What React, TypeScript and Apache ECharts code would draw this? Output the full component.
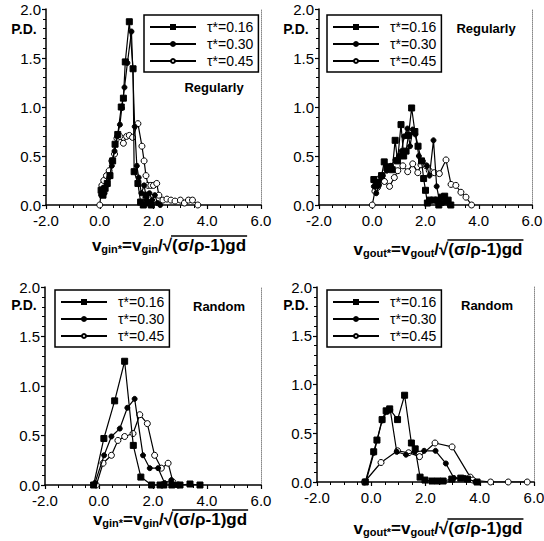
import React, { useEffect, useRef } from 'react';
import * as echarts from 'echarts';

const FONT = '"Liberation Sans", Arial, Helvetica, sans-serif';

const seriesNames = ['τ*=0.16', 'τ*=0.30', 'τ*=0.45'];
const xMin = -2;
const xMax = 6;
const xStep = 2;
const yMin = 0;
const yMax = 2;
const yStep = 0.5;
const yAxisTitle = 'P.D.';
const panelTags = ['Regularly', 'Regularly', 'Random', 'Random'];
const panelSubs = ['gin', 'gout', 'gin', 'gout'];

// Panel 1: regularly, v_gin*
const reg_in_016: [number, number][] = [
  [0.05, 0.15], [0.12, 0.1], [0.2, 0.17], [0.28, 0.22], [0.38, 0.3], [0.48, 0.45], [0.57, 0.62],
  [0.67, 0.72], [0.8, 1.0], [0.88, 1.09], [0.95, 1.46], [1.1, 1.87], [1.24, 1.39], [1.28, 0.34],
  [1.42, 0.22], [1.52, 0.03], [1.62, 0.0], [1.72, 0.1], [1.82, 0.02], [1.92, 0.0],
];
const reg_in_030: [number, number][] = [
  [0.05, 0.1], [0.1, 0.17], [0.18, 0.12], [0.25, 0.2], [0.35, 0.28], [0.45, 0.4], [0.55, 0.55],
  [0.65, 0.7], [0.75, 0.82], [0.82, 0.99], [0.92, 1.2], [1.03, 1.45], [1.18, 1.77], [1.3, 0.8],
  [1.38, 0.4], [1.45, 0.28], [1.55, 0.12], [1.65, 0.2], [1.75, 0.05], [1.85, 0.12], [1.95, 0.05],
  [2.05, 0.1], [2.15, 0.02], [2.25, 0.0],
];
const reg_in_045: [number, number][] = [
  [0.0, 0.0], [0.08, 0.2], [0.15, 0.25], [0.25, 0.3], [0.35, 0.35], [0.45, 0.45], [0.55, 0.52],
  [0.64, 0.68], [0.75, 0.7], [0.88, 0.63], [1.0, 0.7], [1.1, 0.71], [1.22, 0.69], [1.42, 0.83],
  [1.57, 0.6], [1.65, 0.45], [1.72, 0.3], [1.8, 0.2], [1.9, 0.2], [2.0, 0.2], [2.12, 0.22],
  [2.2, 0.1], [2.35, 0.05], [2.5, 0.06], [2.65, 0.05], [2.8, 0.04], [3.0, 0.05], [3.15, 0.02],
  [3.3, 0.05], [3.45, 0.05], [3.65, 0.0],
];

// Panel 2: regularly, v_gout*
const reg_out_016: [number, number][] = [
  [0.06, 0.26], [0.15, 0.2], [0.22, 0.23], [0.35, 0.3], [0.45, 0.44], [0.55, 0.38], [0.67, 0.39],
  [0.75, 0.36], [0.86, 0.66], [0.95, 0.45], [1.08, 0.82], [1.18, 0.5], [1.27, 0.55], [1.36, 0.71],
  [1.48, 0.99], [1.6, 0.75], [1.72, 0.6], [1.85, 0.45], [1.93, 0.27], [2.0, 0.15], [2.07, 0.02],
  [2.15, 0.05], [2.3, 0.05], [2.45, 0.05], [2.5, 0.0], [2.6, 0.08], [2.72, 0.09], [2.85, 0.05],
  [2.95, 0.0],
];
const reg_out_030: [number, number][] = [
  [0.06, 0.19], [0.15, 0.12], [0.25, 0.2], [0.4, 0.3], [0.55, 0.35], [0.7, 0.4], [0.87, 0.46],
  [1.0, 0.5], [1.1, 0.55], [1.2, 0.7], [1.32, 0.78], [1.42, 0.6], [1.52, 0.77], [1.62, 0.72],
  [1.75, 0.5], [1.9, 0.45], [2.05, 0.4], [2.15, 0.3], [2.3, 0.66], [2.42, 0.19], [2.52, 0.05],
  [2.65, 0.02], [2.75, 0.03], [2.9, 0.0],
];
const reg_out_045: [number, number][] = [
  [0.0, 0.0], [0.1, 0.14], [0.2, 0.18], [0.27, 0.27], [0.46, 0.24], [0.65, 0.19], [0.83, 0.28],
  [0.96, 0.35], [1.15, 0.4], [1.33, 0.34], [1.52, 0.42], [1.71, 0.33], [1.83, 0.41], [2.02, 0.4],
  [2.14, 0.35], [2.33, 0.33], [2.52, 0.32], [2.77, 0.46], [2.96, 0.21], [3.14, 0.2], [3.33, 0.13],
  [3.52, 0.08], [3.73, 0.0],
];

// Panel 3: random, v_gin*
const ran_in_016: [number, number][] = [
  [-0.2, 0.0], [0.18, 0.47], [0.58, 0.85], [0.95, 1.25], [1.27, 0.4], [1.55, 0.08], [1.95, 0.0],
  [2.26, 0.0], [2.4, 0.0], [2.7, 0.0], [3.0, 0.0], [3.37, 0.01], [3.74, 0.0],
];
const ran_in_030: [number, number][] = [
  [-0.15, 0.02], [0.19, 0.3], [0.46, 0.49], [0.77, 0.57], [1.05, 0.78], [1.32, 0.87], [1.63, 0.3],
  [1.88, 0.17], [2.19, 0.17], [2.43, 0.02], [2.68, 0.05], [2.86, 0.0],
];
const ran_in_045: [number, number][] = [
  [-0.1, 0.0], [0.15, 0.22], [0.46, 0.3], [0.7, 0.45], [0.95, 0.49], [1.26, 0.52], [1.51, 0.71],
  [1.79, 0.62], [2.06, 0.3], [2.31, 0.17], [2.56, 0.22], [2.74, 0.03], [2.93, 0.0],
];

// Panel 4: random, v_gout*
const ran_out_016: [number, number][] = [
  [-0.22, 0.0], [0.09, 0.31], [0.21, 0.43], [0.4, 0.64], [0.55, 0.73], [0.68, 0.75], [0.97, 0.64],
  [1.23, 0.89], [1.48, 0.4], [1.62, 0.34], [1.8, 0.05], [1.98, 0.02], [2.24, 0.01], [2.45, 0.01],
  [2.65, 0.01], [2.97, 0.03], [3.3, 0.04], [3.55, 0.03], [3.9, 0.0],
];
const ran_out_030: [number, number][] = [
  [-0.2, 0.0], [0.1, 0.3], [0.22, 0.43], [0.4, 0.63], [0.58, 0.72], [0.7, 0.74], [0.94, 0.31],
  [1.28, 0.28], [1.6, 0.31], [1.95, 0.32], [2.37, 0.32], [2.75, 0.19], [3.05, 0.04], [3.45, 0.04],
  [3.85, 0.0],
];
const ran_out_045: [number, number][] = [
  [-0.25, 0.0], [0.36, 0.2], [0.97, 0.32], [1.38, 0.3], [1.78, 0.26], [2.35, 0.4], [2.98, 0.36],
  [3.65, 0.05], [3.75, 0.02], [4.4, 0.0], [5.05, 0.0], [5.75, 0.0],
];

const panelData = [
  [reg_in_016, reg_in_030, reg_in_045],
  [reg_out_016, reg_out_030, reg_out_045],
  [ran_in_016, ran_in_030, ran_in_045],
  [ran_out_016, ran_out_030, ran_out_045],
];

// layout (pixels)
const grids = [
  { left: 46, top: 9, width: 215, height: 196 },
  { left: 319, top: 9, width: 213, height: 196 },
  { left: 45, top: 287, width: 216, height: 198 },
  { left: 317, top: 287, width: 217, height: 195 },
];
const legendPos = [
  { left: 144, top: 15 },
  { left: 327, top: 15 },
  { left: 55, top: 290 },
  { left: 327, top: 290 },
];
const tagPos = [
  { x: 214, y: 87 },
  { x: 486, y: 28 },
  { x: 219, y: 306 },
  { x: 487, y: 305 },
];
const pdPos = [
  { x: 24, y: 29 },
  { x: 296, y: 29 },
  { x: 24, y: 305 },
  { x: 296, y: 305 },
];
const titlePos = [
  { cx: 169, y: 244 },
  { cx: 438, y: 248 },
  { cx: 170, y: 518 },
  { cx: 438, y: 527 },
];

const symbolDefs = [
  { symbol: 'rect', size: 6, fill: '#000' },
  { symbol: 'circle', size: 5, fill: '#000' },
  { symbol: 'circle', size: 6, fill: '#fff' },
];

function measure(text: string, size: number) {
  const c = document.createElement('canvas').getContext('2d');
  if (!c) return text.length * size * 0.6;
  c.font = `bold ${size}px "Liberation Sans", Arial, sans-serif`;
  return c.measureText(text).width;
}

export default function App() {
  const ref = useRef<HTMLDivElement>(null);
  useEffect(() => {
    if (!ref.current) return;
    const chart = echarts.init(ref.current, undefined, { renderer: 'svg' });

    const xAxis: any[] = [];
    const yAxis: any[] = [];
    const series: any[] = [];
    const legend: any[] = [];
    const graphic: any[] = [];
    const MAIN = 17;
    const SUB = 11;

    grids.forEach((g, i) => {
      xAxis.push({
        type: 'value', gridIndex: i, min: xMin, max: xMax, interval: xStep,
        axisLine: { show: true, onZero: false, lineStyle: { color: '#000', width: 1.5 } },
        axisTick: { show: true, length: 4, lineStyle: { color: '#000', width: 1.2 } },
        minorTick: { show: true, splitNumber: 4, length: 3, lineStyle: { color: '#000', width: 1 } },
        splitLine: { show: false },
        axisLabel: {
          color: '#000', fontSize: 15, fontFamily: FONT, margin: 8,
          formatter: (v: number) => v.toFixed(1),
        },
      });
      yAxis.push({
        type: 'value', gridIndex: i, min: yMin, max: yMax, interval: yStep,
        axisLine: { show: true, onZero: false, lineStyle: { color: '#000', width: 1.5 } },
        axisTick: { show: true, length: 4, lineStyle: { color: '#000', width: 1.2 } },
        minorTick: { show: true, splitNumber: 5, length: 3, lineStyle: { color: '#000', width: 1 } },
        splitLine: { show: false },
        axisLabel: {
          color: '#000', fontSize: 15, fontFamily: FONT, margin: 5,
          formatter: (v: number) => v.toFixed(1),
        },
      });
      yAxis.push({
        type: 'value', gridIndex: i, min: yMin, max: yMax, interval: yStep, position: 'right',
        axisLine: { show: true, onZero: false, lineStyle: { color: '#888', width: 1, type: 'dotted' } },
        axisTick: { show: false },
        splitLine: { show: false },
        axisLabel: { show: false },
      });

      panelData[i].forEach((data, k) => {
        const sd = symbolDefs[k];
        series.push({
          type: 'line', name: seriesNames[k], xAxisIndex: i, yAxisIndex: 2 * i, data,
          symbol: sd.symbol, symbolSize: sd.size, showSymbol: true, showAllSymbol: true,
          lineStyle: { color: '#000', width: 1.2 },
          itemStyle: { color: sd.fill, borderColor: '#000', borderWidth: 1 },
          emphasis: { disabled: true }, silent: true, z: 3 - k,
        });
      });

      legend.push({
        orient: 'vertical', left: legendPos[i].left, top: legendPos[i].top,
        data: seriesNames, selectedMode: false, align: 'left',
        itemWidth: 46, itemHeight: 5, itemGap: 3,
        padding: [5, 5, 4, 5],
        borderColor: '#000', borderWidth: 1.5, backgroundColor: '#fff',
        textStyle: { color: '#000', fontSize: 14, fontFamily: FONT, lineHeight: 14, padding: [0, 0, 0, 6] },
      });

      graphic.push({
        type: 'text', x: tagPos[i].x, y: tagPos[i].y,
        style: {
          text: panelTags[i], fill: '#000', font: `bold 13px ${FONT}`,
          textAlign: 'center', textVerticalAlign: 'middle', align: 'center', verticalAlign: 'middle',
        },
      });
      graphic.push({
        type: 'text', x: pdPos[i].x, y: pdPos[i].y,
        style: {
          text: yAxisTitle, fill: '#000', font: `bold 14px ${FONT}`,
          textAlign: 'center', textVerticalAlign: 'middle', align: 'center', verticalAlign: 'middle',
        },
      });

      const sub = panelSubs[i];
      const tail = '(σ/ρ-1)gd';
      const pre = measure('v', MAIN) + measure(sub + '*', SUB) + measure('=v', MAIN) + measure(sub, SUB) + measure('/√', MAIN);
      const tailW = measure(tail, MAIN);
      const total = pre + tailW;
      const x0 = titlePos[i].cx - total / 2;
      const y0 = titlePos[i].y;
      graphic.push({
        type: 'text', x: x0, y: y0,
        style: {
          text: `{m|v}{s|${sub}*}{m|=v}{s|${sub}}{m|/√${tail}}`,
          fill: '#000',
          textAlign: 'left', textVerticalAlign: 'middle', align: 'left', verticalAlign: 'middle',
          rich: {
            m: { fontSize: MAIN, fontWeight: 'bold', fontFamily: FONT, lineHeight: 20, verticalAlign: 'bottom', color: '#000' },
            s: { fontSize: SUB, fontWeight: 'bold', fontFamily: FONT, lineHeight: 9, verticalAlign: 'bottom', color: '#000' },
          },
        },
      });
      graphic.push({
        type: 'line',
        shape: { x1: x0 + pre - 1, y1: y0 - 8, x2: x0 + total + 1, y2: y0 - 8 },
        style: { stroke: '#000', lineWidth: 1.5 },
      });
    });

    chart.setOption({
      animation: false,
      backgroundColor: '#fff',
      grid: grids.map((g) => ({ ...g, containLabel: false, outerBoundsMode: 'none' })),
      xAxis, yAxis, series, legend, graphic,
      tooltip: { show: false },
    });
    return () => chart.dispose();
  }, []);
  return (
    <div
      ref={ref}
      style={{ position: 'absolute', left: 0, top: 0, width: 544, height: 541, background: '#fff' }}
    />
  );
}
